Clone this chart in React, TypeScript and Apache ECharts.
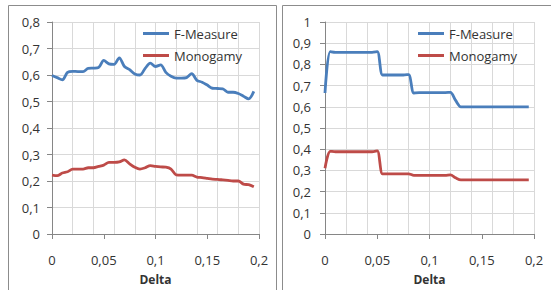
import React, { useEffect, useRef } from "react";
import * as echarts from "echarts";

const deltas = [
  0, 0.005, 0.01, 0.015, 0.02, 0.025, 0.03, 0.035, 0.04, 0.045,
  0.05, 0.055, 0.06, 0.065, 0.07, 0.075, 0.08, 0.085, 0.09, 0.095,
  0.1, 0.105, 0.11, 0.115, 0.12, 0.125, 0.13, 0.135, 0.14, 0.145,
  0.15, 0.155, 0.16, 0.165, 0.17, 0.175, 0.18, 0.185, 0.19, 0.195,
];

const leftFMeasure = [
  0.598, 0.59, 0.582, 0.61, 0.614, 0.613, 0.613, 0.625, 0.626, 0.628,
  0.655, 0.642, 0.64, 0.665, 0.632, 0.62, 0.604, 0.6, 0.625, 0.645,
  0.632, 0.638, 0.61, 0.595, 0.588, 0.588, 0.59, 0.605, 0.58, 0.573,
  0.562, 0.55, 0.549, 0.548, 0.535, 0.535, 0.53, 0.52, 0.51, 0.538,
];

const leftMonogamy = [
  0.222, 0.22, 0.23, 0.235, 0.245, 0.245, 0.245, 0.25, 0.25, 0.255,
  0.26, 0.27, 0.27, 0.272, 0.28, 0.265, 0.252, 0.245, 0.25, 0.258,
  0.255, 0.253, 0.252, 0.245, 0.223, 0.222, 0.222, 0.222, 0.215, 0.213,
  0.21, 0.207, 0.206, 0.204, 0.202, 0.2, 0.2, 0.188, 0.186, 0.178,
];

const rightFMeasure = [
  0.665, 0.86, 0.857, 0.857, 0.857, 0.857, 0.857, 0.857, 0.857, 0.857,
  0.86, 0.75, 0.75, 0.75, 0.75, 0.75, 0.752, 0.665, 0.667, 0.667,
  0.667, 0.667, 0.667, 0.667, 0.668, 0.63, 0.6, 0.6, 0.6, 0.6,
  0.6, 0.6, 0.6, 0.6, 0.6, 0.6, 0.6, 0.6, 0.6, 0.6,
];

const rightMonogamy = [
  0.31, 0.39, 0.388, 0.388, 0.388, 0.388, 0.388, 0.388, 0.388, 0.388,
  0.392, 0.284, 0.284, 0.284, 0.284, 0.284, 0.284, 0.277, 0.277, 0.277,
  0.277, 0.277, 0.277, 0.277, 0.279, 0.265, 0.255, 0.255, 0.255, 0.255,
  0.255, 0.255, 0.255, 0.255, 0.255, 0.255, 0.255, 0.255, 0.255, 0.255,
];

const seriesNames = ["F-Measure", "Monogamy"];
const xAxisName = "Delta";

const FONT = "Open Sans";
const TEXT = "#333333";
const AXIS = "#868686";
const GRID = "#d9d9d9";
const BLUE = "#4a7ebb";
const RED = "#be4b48";

const fmt = (v: number) => String(Number(v.toFixed(3))).replace(".", ",");

function pairs(ys: number[]) {
  return ys.map((y, i) => [deltas[i], y]);
}

export default function App() {
  const ref = useRef<HTMLDivElement>(null);
  useEffect(() => {
    document.body.style.margin = "0";
    const chart = echarts.init(ref.current!, undefined, { renderer: "svg" });

    const labelAxis = (gridIndex: number) => ({
      type: "value",
      gridIndex,
      min: 0,
      max: 0.2,
      interval: 0.05,
      name: xAxisName,
      nameLocation: "middle",
      nameGap: 39,
      nameTextStyle: { fontFamily: FONT, fontSize: 12, fontWeight: "bold", color: TEXT },
      axisLine: { show: true, lineStyle: { color: AXIS } },
      axisTick: { show: true, length: 5, lineStyle: { color: AXIS } },
      axisLabel: { margin: 19, fontFamily: FONT, fontSize: 13, color: TEXT, formatter: fmt },
      splitLine: { show: false },
    });
    const gridAxis = (gridIndex: number) => ({
      type: "value",
      gridIndex,
      min: 0,
      max: 0.2,
      interval: 0.02,
      axisLine: { show: false },
      axisTick: { show: false },
      axisLabel: { show: false },
      splitLine: { show: true, lineStyle: { color: GRID } },
    });
    const yAxis = (gridIndex: number, max: number, margin: number) => ({
      type: "value",
      gridIndex,
      min: 0,
      max,
      interval: 0.1,
      axisLine: { show: true, lineStyle: { color: AXIS } },
      axisTick: { show: true, length: 5, lineStyle: { color: AXIS } },
      axisLabel: { margin, fontFamily: FONT, fontSize: 13, color: TEXT, formatter: fmt },
      splitLine: { show: true, lineStyle: { color: GRID } },
    });
    const line = (name: string, data: number[], color: string, xi: number, yi: number) => ({
      type: "line",
      name,
      data: pairs(data),
      xAxisIndex: xi,
      yAxisIndex: yi,
      symbol: "none",
      smooth: 0.3,
      lineStyle: { color, width: 2.8 },
      itemStyle: { color },
      z: 5,
    });
    const legend = (left: number) => ({
      left,
      top: 22,
      orient: "vertical",
      icon: "rect",
      itemWidth: 26,
      itemHeight: 3,
      itemGap: 9,
      data: seriesNames,
      textStyle: { fontFamily: FONT, fontSize: 13, color: TEXT },
    });

    chart.setOption({
      animation: false,
      backgroundColor: "#ffffff",
      graphic: [
        { type: "rect", shape: { x: 8.5, y: 5.5, width: 268, height: 300 }, style: { fill: "none", stroke: "#8c8c8c", lineWidth: 1 }, z: 0 },
        { type: "rect", shape: { x: 282.5, y: 5.5, width: 280, height: 300 }, style: { fill: "none", stroke: "#8c8c8c", lineWidth: 1 }, z: 0 },
      ],
      grid: [
        { left: 52, right: 292, top: 22, bottom: 53 },
        { left: 325, right: 17, top: 22, bottom: 54 },
      ],
      xAxis: [labelAxis(0), gridAxis(0), labelAxis(1), gridAxis(1)],
      yAxis: [yAxis(0, 0.8, 12), yAxis(1, 1, 14)],
      legend: [legend(138), legend(413)],
      series: [
        line(seriesNames[0], leftFMeasure, BLUE, 0, 0),
        line(seriesNames[1], leftMonogamy, RED, 0, 0),
        line(seriesNames[0], rightFMeasure, BLUE, 2, 1),
        line(seriesNames[1], rightMonogamy, RED, 2, 1),
      ],
    } as any);
    return () => chart.dispose();
  }, []);
  return <div ref={ref} style={{ width: 551, height: 290 }} />;
}
